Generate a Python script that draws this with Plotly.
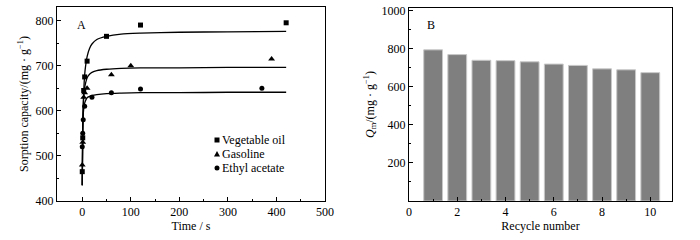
import plotly.graph_objects as go

# ---- Panel A data ----
veg_t = [0, 1, 3, 5, 10, 50, 120, 420]
veg_q = [465, 540, 645, 675, 710, 765, 790, 795]
gas_t = [0, 1, 3, 5, 10, 60, 100, 390]
gas_q = [480, 530, 630, 640, 650, 680, 700, 715]
eth_t = [0, 1, 2, 5, 20, 60, 120, 370]
eth_q = [520, 550, 580, 610, 630, 640, 648, 650]

fit_t = [0, 1, 2, 3, 5, 7, 10, 15, 20, 30, 50, 80, 120, 200, 300, 420]
veg_fit = [435, 550, 605, 640, 680, 700, 720, 738, 748, 758, 765, 770, 772, 774, 775, 776]
gas_fit = [435, 566, 610, 631, 652, 662, 673, 681, 685, 689, 692, 694, 695, 695, 696, 696]
eth_fit = [435, 559, 590, 604, 617, 623, 629, 632, 634, 636, 638, 639, 640, 640, 641, 641]

legend_names = ["Vegetable oil", "Gasoline", "Ethyl acetate"]

# ---- Panel B data ----
cycles = [1, 2, 3, 4, 5, 6, 7, 8, 9, 10]
qm = [795, 770, 740, 738, 732, 720, 713, 695, 690, 675]

FONT = "Liberation Serif"
W, H = 700, 240
fig = go.Figure()

for q in [veg_fit, gas_fit, eth_fit]:
    fig.add_trace(go.Scatter(x=fit_t, y=q, mode="lines",
                             line=dict(color="black", width=1.3, shape="spline", smoothing=0.6),
                             showlegend=False, xaxis="x", yaxis="y"))

fig.add_trace(go.Scatter(x=veg_t, y=veg_q, mode="markers", name=legend_names[0], showlegend=False,
                         marker=dict(symbol="square", size=5, color="black"), xaxis="x", yaxis="y"))
fig.add_trace(go.Scatter(x=gas_t, y=gas_q, mode="markers", name=legend_names[1], showlegend=False,
                         marker=dict(symbol="triangle-up", size=6, color="black"), xaxis="x", yaxis="y"))
fig.add_trace(go.Scatter(x=eth_t, y=eth_q, mode="markers", name=legend_names[2], showlegend=False,
                         marker=dict(symbol="circle", size=5, color="black"), xaxis="x", yaxis="y"))

fig.add_trace(go.Bar(x=cycles, y=qm, width=0.78,
                     marker=dict(color="#7f7f7f", line=dict(color="#c8c8c8", width=1)),
                     showlegend=False, xaxis="x2", yaxis="y2"))

axis_common = dict(showline=True, mirror=True, linecolor="black", linewidth=1, ticks="inside", ticklen=4,
                   tickcolor="black", showgrid=False, zeroline=False, automargin=False,
                   tickfont=dict(family=FONT, size=12, color="black"),
                   minor=dict(ticks="inside", ticklen=2, tickcolor="black"))

def px(x):
    return x / W

def py(y):
    return 1 - y / H

# manual legend (panel A)
shapes = []
annotations = []
leg_x = 217
leg_rows = [140, 154, 168]
shapes.append(dict(type="rect", xref="paper", yref="paper", x0=px(leg_x - 2.5), x1=px(leg_x + 2.5),
                   y0=py(leg_rows[0] + 2.5), y1=py(leg_rows[0] - 2.5), fillcolor="black", line=dict(width=0)))
shapes.append(dict(type="path", xref="paper", yref="paper",
                   path=f"M {px(leg_x-3)} {py(leg_rows[1]+2.5)} L {px(leg_x+3)} {py(leg_rows[1]+2.5)} L {px(leg_x)} {py(leg_rows[1]-3)} Z",
                   fillcolor="black", line=dict(width=0)))
shapes.append(dict(type="circle", xref="paper", yref="paper", x0=px(leg_x - 2.5), x1=px(leg_x + 2.5),
                   y0=py(leg_rows[2] + 2.5), y1=py(leg_rows[2] - 2.5), fillcolor="black", line=dict(width=0)))
for name, yy in zip(legend_names, leg_rows):
    annotations.append(dict(text=name, x=px(leg_x + 3), y=py(yy), xref="paper", yref="paper",
                            xanchor="left", yanchor="middle", showarrow=False,
                            font=dict(family=FONT, size=12)))

annotations += [
    dict(text="A", x=px(81), y=py(25), xref="paper", yref="paper", showarrow=False,
         xanchor="center", yanchor="middle", font=dict(family=FONT, size=12)),
    dict(text="B", x=px(431), y=py(25), xref="paper", yref="paper", showarrow=False,
         xanchor="center", yanchor="middle", font=dict(family=FONT, size=12)),
]

fig.update_layout(
    width=W, height=H, margin=dict(l=0, r=0, t=0, b=0),
    paper_bgcolor="white", plot_bgcolor="white",
    font=dict(family=FONT, size=12, color="black"),
    showlegend=False,
    xaxis=dict(domain=[px(57), px(325)], range=[-52, 500], tickvals=[0, 100, 200, 300, 400, 500],
               minor_dtick=50, title=dict(text="Time / s", standoff=0, font=dict(family=FONT, size=12)),
               anchor="y", **axis_common),
    yaxis=dict(domain=[py(201), py(7)], range=[400, 830], tickvals=[400, 500, 600, 700, 800],
               minor_dtick=50, title=dict(text="Sorption capacity/(mg · g<sup>−1</sup>)", standoff=4,
                                          font=dict(family=FONT, size=12)),
               anchor="x", **axis_common),
    xaxis2=dict(domain=[px(409), px(672)], range=[0, 10.9], tickvals=[0, 2, 4, 6, 8, 10],
                minor_dtick=1, title=dict(text="Recycle number", standoff=0, font=dict(family=FONT, size=12)),
                anchor="y2", **axis_common),
    yaxis2=dict(domain=[py(201), py(8)], range=[0, 1015], tickvals=[200, 400, 600, 800, 1000],
                minor_dtick=100, title=dict(text="<i>Q</i><sub>m</sub>/(mg · g<sup>−1</sup>)", standoff=4,
                                            font=dict(family=FONT, size=12)),
                anchor="x2", **axis_common),
    shapes=shapes,
    annotations=annotations,
)

fig.write_html("out.html", config={"displayModeBar": False},
               post_script="document.body.style.margin='0px';document.body.style.padding='0px';")
